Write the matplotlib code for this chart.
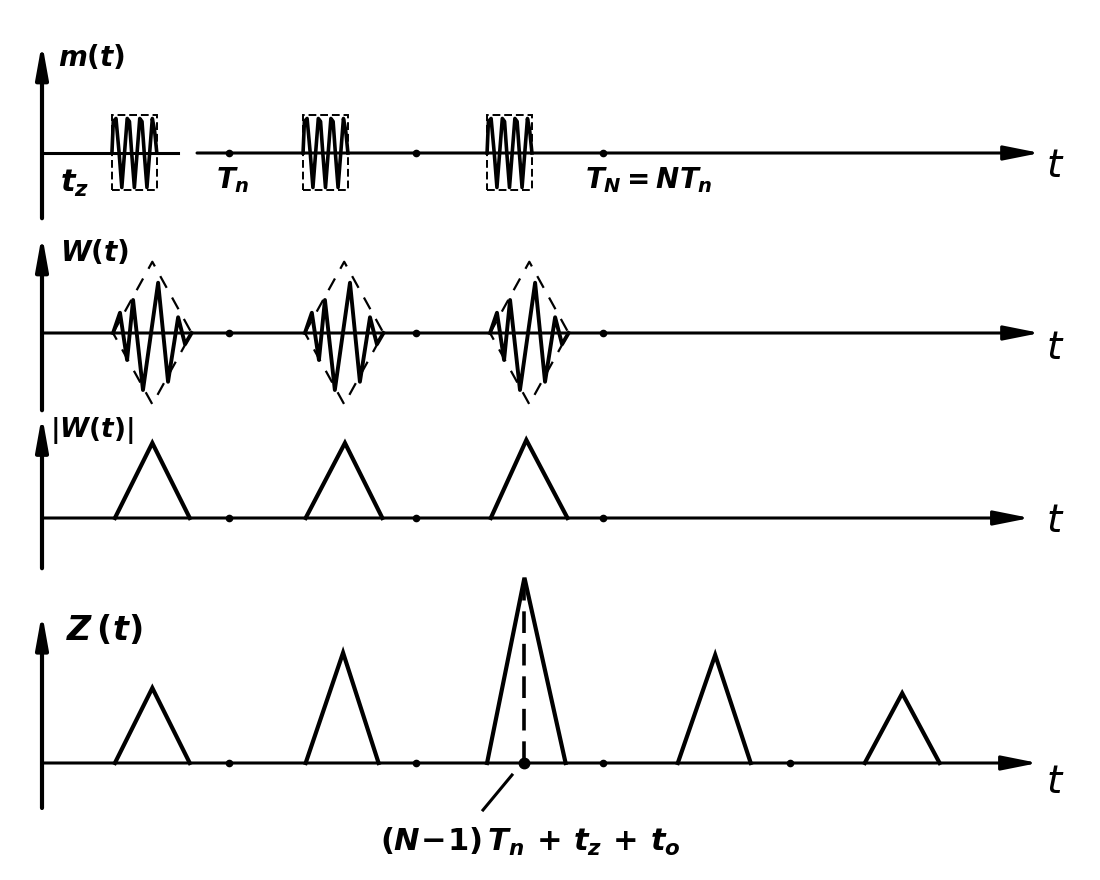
import matplotlib
matplotlib.use('Agg')
import numpy as np
import matplotlib.pyplot as plt
from matplotlib.patches import Rectangle

plt.rcParams['font.family'] = 'DejaVu Sans'
plt.rcParams['mathtext.fontset'] = 'custom'
plt.rcParams['mathtext.it'] = 'DejaVu Sans:italic:bold'
plt.rcParams['mathtext.rm'] = 'DejaVu Sans:bold'

# time in units of the repetition period Tn, amplitudes in units of the |W(t)| peak
period_dots = [1, 2, 3]
z_dots = [1, 2, 3, 4]

# m(t): radio pulses of length t_z
m_start = [0.374, 1.396, 2.38]
m_width = 0.24
m_box = 0.5
m_wave_x = [0, 0.03, 0.09, 0.16, 0.22, 0.28, 0.34, 0.39, 0.44, 0.5, 0.56, 0.62, 0.67, 0.72, 0.78, 0.84, 0.9, 0.95, 1.0]
m_wave_y = [0, 0.42, 0.46, 0.0, -0.46, 0.0, 0.46, 0.42, 0.0, -0.46, 0.0, 0.46, 0.42, 0.0, -0.46, 0.0, 0.46, 0.3, 0]

# W(t): matched filter output of one pulse
w_start = [0.38, 1.406, 2.396]
w_width = 0.42
w_env = 0.95
w_wave_x = [0, 0.037, 0.075, 0.107, 0.160, 0.241, 0.294, 0.348, 0.385, 0.42]
w_wave_y = [0, 0.27, -0.36, 0.44, -0.76, 0.67, -0.65, 0.21, -0.15, 0]

# |W(t)|: envelopes
env_start = [0.39, 1.41, 2.40]
env_peak = [0.59, 1.62, 2.59]
env_end = [0.79, 1.82, 2.81]
env_height = [1.0, 1.0, 1.04]

# Z(t): accumulated output
z_start = [0.39, 1.41, 2.38, 3.40, 4.40]
z_peak = [0.59, 1.61, 2.58, 3.60, 4.60]
z_end = [0.79, 1.80, 2.80, 3.79, 4.80]
z_height = [1.0, 1.47, 2.47, 1.44, 0.93]
z_max_time = 2.58

# layout: 187 px per Tn, 75 px per amplitude unit, axis origin at x=42 px
PX_T, PX_A = 187.0, 75.0
base = {'m': (880 - 153) / PX_A, 'w': (880 - 333) / PX_A,
        'a': (880 - 518) / PX_A, 'z': (880 - 763) / PX_A}

fig = plt.figure(figsize=(11, 8.8), dpi=100)
ax = fig.add_axes([0, 0, 1, 1])
ax.set_xlim(-42 / PX_T, 1058 / PX_T)
ax.set_ylim(0, 880 / PX_A)
ax.axis('off')

LW_AX = 2.2
LW = 3.0
arrow_h = dict(arrowstyle='-|>,head_length=1.1,head_width=0.22', color='k', lw=LW_AX,
               mutation_scale=20, shrinkA=0, shrinkB=0)
arrow_v = dict(arrowstyle='-|>,head_length=1.0,head_width=0.18', color='k', lw=LW_AX + 0.8,
               mutation_scale=20, shrinkA=0, shrinkB=0)

# vertical axes (top, bottom relative to baseline)
v_ext = {'m': (1.47, -0.87), 'w': (1.31, -1.03), 'a': (1.37, -0.67), 'z': (2.0, -0.6)}
for key, (top, bot) in v_ext.items():
    b = base[key]
    ax.annotate('', xy=(0, b + top), xytext=(0, b + bot), arrowprops=arrow_v)

# horizontal axes
h_end = {'m': 5.337, 'w': 5.337, 'a': 5.283, 'z': 5.326}
ax.plot([0, 0.727], [base['m'], base['m']], color='k', lw=LW_AX)
ax.annotate('', xy=(h_end['m'], base['m']), xytext=(0.829, base['m']), arrowprops=arrow_h)
for key in ['w', 'a', 'z']:
    ax.annotate('', xy=(h_end[key], base[key]), xytext=(0, base[key]), arrowprops=arrow_h)

# period dots
for key in ['m', 'w', 'a']:
    ax.plot(period_dots, [base[key]] * len(period_dots), 'o', color='k', ms=4.5)
ax.plot(z_dots, [base['z']] * len(z_dots), 'o', color='k', ms=4.5)
ax.plot([z_max_time], [base['z']], 'o', color='k', ms=7.5)

# m(t)
for s in m_start:
    ax.add_patch(Rectangle((s, base['m'] - m_box), m_width, 2 * m_box, fill=False,
                           ec='k', lw=1.4, ls=(0, (4, 2))))
    ax.plot(s + np.array(m_wave_x) * m_width, base['m'] + np.array(m_wave_y),
            color='k', lw=2.6, solid_joinstyle='round')

# W(t)
for s in w_start:
    c = s + w_width / 2
    ax.plot([s, c, s + w_width, c, s], base['w'] + np.array([0, w_env, 0, -w_env, 0]),
            color='k', lw=1.6, ls=(0, (6, 5)))
    ax.plot(s + np.array(w_wave_x), base['w'] + np.array(w_wave_y),
            color='k', lw=2.8, solid_joinstyle='round')

# |W(t)|
for s, p, e, h in zip(env_start, env_peak, env_end, env_height):
    ax.plot([s, p, e], [base['a'], base['a'] + h, base['a']], color='k', lw=LW,
            solid_joinstyle='miter')

# Z(t)
for s, p, e, h in zip(z_start, z_peak, z_end, z_height):
    ax.plot([s, p, e], [base['z'], base['z'] + h, base['z']], color='k', lw=LW,
            solid_joinstyle='miter')
zi = z_peak.index(z_max_time)
ax.plot([z_max_time, z_max_time], [base['z'], base['z'] + z_height[zi] - 0.12],
        color='k', lw=2.6, ls=(0, (6, 3)))

# pointer to the maximum
ax.plot([(483 - 42) / PX_T, (512 - 42) / PX_T], [(880 - 810) / PX_A, (880 - 775) / PX_A],
        color='k', lw=2.2)


def px(x, y):
    return (x - 42) / PX_T, (880 - y) / PX_A


fs = 20
ax.text(*px(58, 58), r'$m(t)$', fontsize=fs, ha='left', va='center')
ax.text(*px(60, 252), r'$W(t)$', fontsize=fs, ha='left', va='center')
ax.text(*px(50, 430), r'$|W(t)|$', fontsize=fs - 1, ha='left', va='center')
ax.text(*px(66, 630), r'$Z\,(t)$', fontsize=fs + 4, ha='left', va='center')

ax.text(*px(60, 183), r'$t_z$', fontsize=fs + 2, ha='left', va='center')
ax.text(*px(216, 180), r'$T_n$', fontsize=fs, ha='left', va='center')
ax.text(*px(585, 180), r'$T_N = NT_n$', fontsize=fs, ha='left', va='center')
ax.text(*px(380, 842), r'$(N\!-\!1)\,T_n\,+\,t_z\,+\,t_o$', fontsize=fs + 2, ha='left', va='center')

for y in [166, 348, 521, 782]:
    ax.text(*px(1047, y), 't', fontsize=fs + 8, fontstyle='italic', ha='left', va='center')

fig.savefig('out.png', dpi=100, facecolor='white')
